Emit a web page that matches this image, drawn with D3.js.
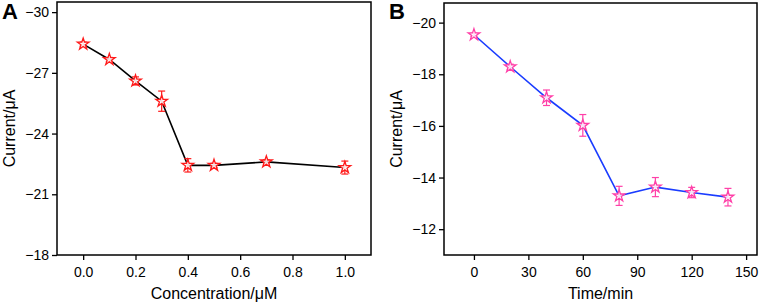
<!DOCTYPE html>
<html>
<head>
<meta charset="utf-8">
<script src="https://cdn.jsdelivr.net/npm/d3@7"></script>
<style>
  body { margin: 0; background: #fff; }
  svg text { font-family: "Liberation Sans", Arial, sans-serif; }
</style>
</head>
<body>
<svg id="chart" width="761" height="304"></svg>
<script>
// panel A data
var concX = [0, 0.1, 0.2, 0.3, 0.4, 0.5, 0.7, 1.0];
var concY = [-28.42, -27.66, -26.6, -25.6, -22.43, -22.43, -22.6, -22.32];
var concErr = [0.1, 0.1, 0.2, 0.5, 0.33, 0.1, 0.1, 0.32];
var concXTicks = [0, 0.2, 0.4, 0.6, 0.8, 1.0];
var concYTicks = [-30, -27, -24, -21, -18];

// panel B data
var timeX = [0, 20, 40, 60, 80, 100, 120, 140];
var timeY = [-19.53, -18.29, -17.09, -16.02, -13.29, -13.63, -13.42, -13.24];
var timeErr = [0.06, 0.1, 0.3, 0.42, 0.37, 0.37, 0.2, 0.34];
var timeXTicks = [0, 30, 60, 90, 120, 150];
var timeYTicks = [-20, -18, -16, -14, -12];

var svg = d3.select("#chart");

function minusFmt(f) {
  return function(d) { return f(d).replace("-", "\u2212"); };
}

function drawPanel(o) {
  var g = svg.append("g");

  var x = d3.scaleLinear().domain(o.xDomain).range([o.left, o.right]);
  var y = d3.scaleLinear().domain(o.yDomain).range([o.bottom, o.top]);

  var data = o.xs.map(function(d, i) {
    return {x: d, y: o.ys[i], e: o.errs[i]};
  });

  // frame
  g.append("rect")
    .attr("x", o.left).attr("y", o.top)
    .attr("width", o.right - o.left).attr("height", o.bottom - o.top)
    .attr("fill", "none").attr("stroke", "#000").attr("stroke-width", 1.5);

  var xAxis = d3.axisBottom(x).tickValues(o.xTicks).tickSize(5).tickPadding(4)
    .tickFormat(o.xFmt);
  var yAxis = d3.axisLeft(y).tickValues(o.yTicks).tickSize(5).tickPadding(3)
    .tickFormat(minusFmt(d3.format("d")));

  var gx = g.append("g").attr("transform", "translate(0," + o.bottom + ")").call(xAxis);
  var gy = g.append("g").attr("transform", "translate(" + o.left + ",0)").call(yAxis);
  [gx, gy].forEach(function(a) {
    a.select(".domain").remove();
    a.selectAll(".tick line").attr("stroke", "#000").attr("stroke-width", 1.3);
    a.selectAll(".tick text").attr("font-size", 14).attr("fill", "#000");
  });
  gx.selectAll(".tick text").attr("dy", "0.9em");

  // axis titles
  g.append("text")
    .attr("x", (o.left + o.right) / 2).attr("y", o.bottom + 44)
    .attr("text-anchor", "middle").attr("font-size", 16)
    .text(o.xTitle);
  g.append("text")
    .attr("transform", "translate(" + (o.left - 42) + "," + ((o.top + o.bottom) / 2) + ") rotate(-90)")
    .attr("text-anchor", "middle").attr("font-size", 16)
    .text("Current/\u03bcA");

  // panel letter
  g.append("text")
    .attr("x", o.left - 55).attr("y", 19)
    .attr("font-size", 22).attr("font-weight", "bold")
    .text(o.label);

  // connecting line
  g.append("path")
    .datum(data)
    .attr("fill", "none").attr("stroke", o.lineColor).attr("stroke-width", 1.6)
    .attr("d", d3.line().x(function(d) { return x(d.x); }).y(function(d) { return y(d.y); }));

  // error bars
  var eb = g.selectAll(".err").data(data).enter().append("g").attr("class", "err")
    .attr("stroke", o.markColor).attr("stroke-width", 1.2);
  eb.append("line")
    .attr("x1", function(d) { return x(d.x); }).attr("x2", function(d) { return x(d.x); })
    .attr("y1", function(d) { return y(d.y - d.e); }).attr("y2", function(d) { return y(d.y + d.e); });
  eb.append("line")
    .attr("x1", function(d) { return x(d.x) - 3.5; }).attr("x2", function(d) { return x(d.x) + 3.5; })
    .attr("y1", function(d) { return y(d.y - d.e); }).attr("y2", function(d) { return y(d.y - d.e); });
  eb.append("line")
    .attr("x1", function(d) { return x(d.x) - 3.5; }).attr("x2", function(d) { return x(d.x) + 3.5; })
    .attr("y1", function(d) { return y(d.y + d.e); }).attr("y2", function(d) { return y(d.y + d.e); });

  // star markers
  g.selectAll(".star").data(data).enter().append("path")
    .attr("class", "star")
    .attr("transform", function(d) { return "translate(" + x(d.x) + "," + y(d.y) + ")"; })
    .attr("d", d3.symbol().type(d3.symbolStar).size(42))
    .attr("fill", "#fff").attr("fill-opacity", 0.85)
    .attr("stroke", o.markColor).attr("stroke-width", 1.3);
}

drawPanel({
  label: "A", left: 57, right: 371, top: 2, bottom: 255,
  xDomain: [-0.1, 1.1], yDomain: [-18, -30.5],
  xs: concX, ys: concY, errs: concErr,
  xTicks: concXTicks, yTicks: concYTicks,
  xFmt: d3.format(".1f"), xTitle: "Concentration/\u03bcM",
  lineColor: "#000", markColor: "#ff1a1a"
});

drawPanel({
  label: "B", left: 444, right: 757, top: 3, bottom: 255,
  xDomain: [-16.5, 156], yDomain: [-11, -20.76],
  xs: timeX, ys: timeY, errs: timeErr,
  xTicks: timeXTicks, yTicks: timeYTicks,
  xFmt: d3.format("d"), xTitle: "Time/min",
  lineColor: "#1a3cff", markColor: "#ff40a8"
});
</script>
</body>
</html>
